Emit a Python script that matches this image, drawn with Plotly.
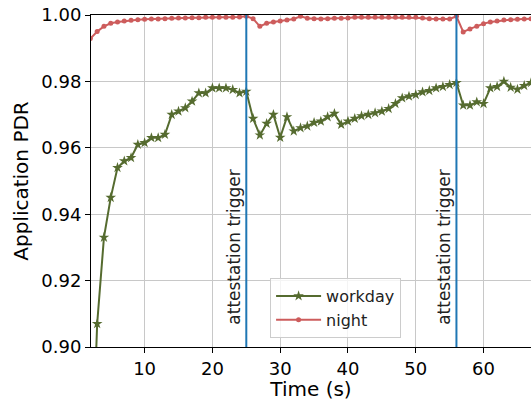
import plotly.graph_objects as go

time_s = list(range(2, 68))

workday = [
    0.850, 0.907, 0.933, 0.945, 0.954, 0.956, 0.957, 0.961, 0.9615, 0.963,
    0.963, 0.964, 0.970, 0.971, 0.972, 0.974, 0.9765, 0.9765, 0.978, 0.978,
    0.978, 0.9775, 0.9765, 0.977, 0.9688, 0.9638, 0.9673, 0.970, 0.9631, 0.9693,
    0.965, 0.966, 0.9665, 0.9676, 0.968, 0.9693, 0.9703, 0.967, 0.968, 0.9688,
    0.9696, 0.970, 0.9705, 0.971, 0.9718, 0.9733, 0.975, 0.9755, 0.976, 0.9768,
    0.9772, 0.978, 0.9784, 0.979, 0.9796, 0.9728, 0.9728, 0.9738, 0.9733, 0.978,
    0.9784, 0.980, 0.9782, 0.9776, 0.9787, 0.9796,
]

night = [
    0.9929, 0.995, 0.9966, 0.9975, 0.9979, 0.9982, 0.9984, 0.9986, 0.9987, 0.9988,
    0.9988, 0.9989, 0.999, 0.9991, 0.9991, 0.9992, 0.9992, 0.9993, 0.9993, 0.9993,
    0.9993, 0.9993, 0.9994, 0.9996, 0.9989, 0.9966, 0.9975, 0.9979, 0.9982, 0.9985,
    0.9988, 0.9996, 0.999, 0.9989, 0.9988, 0.9989, 0.999, 0.999, 0.9991, 0.9993,
    0.9993, 0.9993, 0.9993, 0.9993, 0.9993, 0.9993, 0.9993, 0.9993, 0.9993, 0.9991,
    0.9989, 0.9988, 0.9988, 0.9988, 0.9996, 0.9949, 0.9958, 0.9966, 0.9974, 0.9979,
    0.9982, 0.9985, 0.9986, 0.9987, 0.9988, 0.9989,
]

trigger_times = [25, 56]
trigger_label = "attestation trigger"

FONT = "DejaVu Sans"
GREEN = "#556B2F"
RED = "#CD5C5C"
BLUE = "#1f77b4"

fig = go.Figure()
fig.add_trace(go.Scatter(
    x=time_s, y=workday, name="workday", mode="lines+markers",
    line=dict(color=GREEN, width=2),
    marker=dict(symbol="star", size=8, color=GREEN),
))
fig.add_trace(go.Scatter(
    x=time_s, y=night, name="night", mode="lines+markers",
    line=dict(color=RED, width=2),
    marker=dict(symbol="circle", size=5, color=RED),
))

for t in trigger_times:
    fig.add_shape(type="line", xref="x", yref="paper", x0=t, x1=t, y0=0, y1=1,
                  line=dict(color=BLUE, width=2), layer="above")
    fig.add_annotation(x=t, xref="x", y=0.303, yref="paper", text=trigger_label,
                       textangle=-90, showarrow=False, xshift=-12,
                       xanchor="center", yanchor="middle",
                       font=dict(family=FONT, size=17, color="#222"))

fig.update_layout(
    width=531, height=401,
    margin=dict(l=91, r=0, t=15, b=54),
    plot_bgcolor="white", paper_bgcolor="white",
    font=dict(family=FONT, size=18, color="black"),
    showlegend=True,
    legend=dict(x=0.407, y=0.027, xanchor="left", yanchor="bottom",
                bgcolor="rgba(255,255,255,0.8)", bordercolor="#cccccc", borderwidth=1,
                font=dict(family=FONT, size=16, color="#222"), itemwidth=45,
                tracegroupgap=0),
)
fig.update_xaxes(
    range=[2.09, 67.0], tick0=0, dtick=10,
    showgrid=True, gridcolor="#c8c8c8", gridwidth=1,
    showline=True, linecolor="black", linewidth=1, mirror=True,
    ticks="outside", ticklen=5, tickcolor="black",
    title=dict(text="Time (s)", font=dict(size=20), standoff=8),
    zeroline=False,
)
fig.update_yaxes(
    range=[0.90, 1.00], tick0=0.90, dtick=0.02, tickformat=".2f",
    showgrid=True, gridcolor="#c8c8c8", gridwidth=1,
    showline=True, linecolor="black", linewidth=1, mirror=False,
    ticks="outside", ticklen=5, tickcolor="black",
    title=dict(text="Application PDR", font=dict(size=20), standoff=7),
    zeroline=False,
)

fig.write_html("out.html")
